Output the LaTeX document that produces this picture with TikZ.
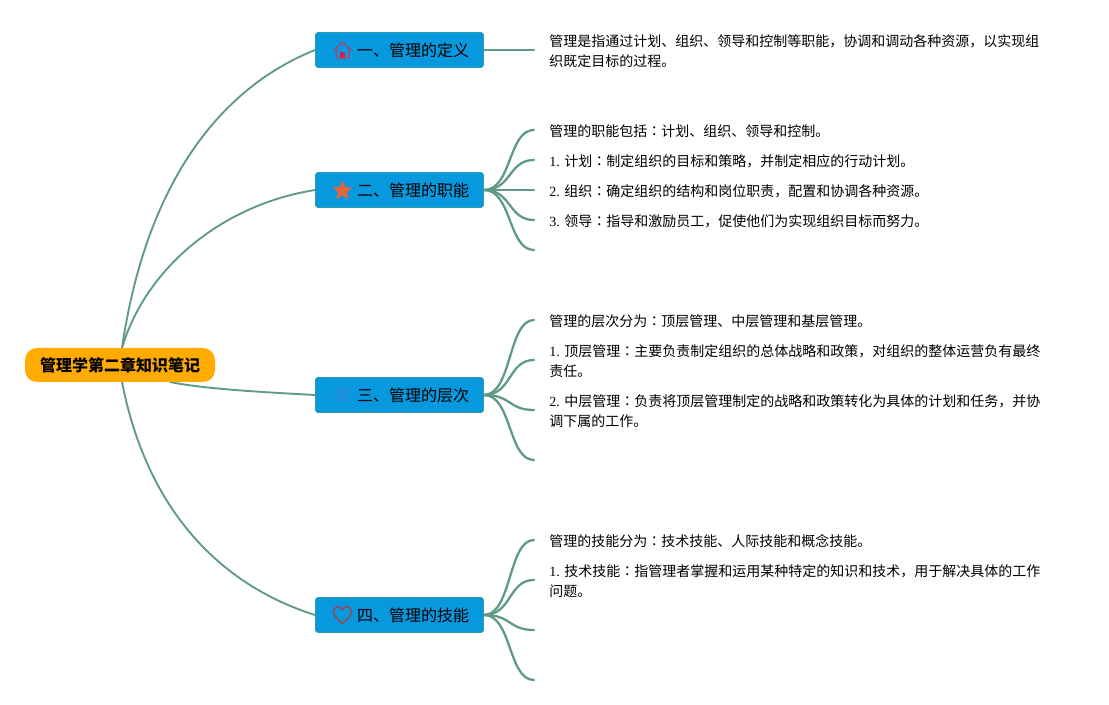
\documentclass[tikz,border=0pt]{standalone}
\usepackage{fontspec}
\usetikzlibrary{backgrounds}
\setmainfont{Liberation Serif}
\newfontfamily\cjk{Noto Sans CJK SC}
\newfontfamily\cjktc{Noto Sans CJK TC}
\definecolor{linkc}{HTML}{5E9A85}
\definecolor{topicc}{HTML}{0798DD}
\definecolor{topicb}{HTML}{2F9AA8}
\definecolor{rootc}{HTML}{FFAB00}
\definecolor{housec}{HTML}{B0446E}
\definecolor{housed}{HTML}{D81E4A}
\definecolor{starc}{HTML}{E0673A}
\definecolor{squarec}{HTML}{1890DA}
\definecolor{heartc}{HTML}{8A4F5E}
\tikzset{
  x=0.75pt,y=-0.75pt,
  link/.style={draw=linkc,line width=1.4pt,line cap=round},
  fan/.style={draw=linkc,line width=1.7pt,line cap=round},
  topic/.style={draw=topicb,fill=topicc,line width=0.6pt,rounded corners=2pt,minimum width=126pt,minimum height=26.25pt,inner sep=0pt,text=black,font=\cjk\fontsize{12}{14}\selectfont},
  roottopic/.style={fill=rootc,rounded corners=9pt,minimum width=142.5pt,minimum height=25.5pt,inner sep=0pt,text=black,font=\cjk\bfseries\fontsize{12}{14}\selectfont},
  note/.style={anchor=north west,inner sep=0pt,yshift=-2.6pt,align=left,font=\cjk\fontsize{10.5}{15}\selectfont},
}
\newcommand{\nm}[1]{{\rmfamily #1}}
\newcommand{\cn}{{\cjktc ：}}
\newcommand{\tp}[1]{\hspace*{20.25pt}\raisebox{-0.6pt}{#1}}
\begin{document}
\begin{tikzpicture}
\useasboundingbox (0,0) rectangle (1109,705);
\coordinate (a1) at (534,50);
\foreach \n/\y in {b1/130,b2/160,b3/190,b4/220,b5/250,c1/320,c2/360,c3/410,c4/460,d1/540,d2/580,d3/630,d4/680}{\coordinate (\n) at (534,\y);}
\coordinate (r1) at (122,348);
\coordinate (r2) at (122,382);
\coordinate (r3) at (170,382);
\node[topic] (t1) at (399.5,50) {\tp{一、管理的定义}};
\node[topic] (t2) at (399.5,190) {\tp{二、管理的职能}};
\node[topic] (t3) at (399.5,395) {\tp{三、管理的层次}};
\node[topic] (t4) at (399.5,615) {\tp{四、管理的技能}};
\node[roottopic] (root) at (120,365) {\raisebox{-0.6pt}{管理学第二章知识笔记}};
\begin{scope}[on background layer]
\draw[link] (r1) .. controls (145,190) and (215,90) .. (t1.west);
\draw[link] (r1) .. controls (145,270) and (220,205) .. (t2.west);
\draw[link] (r3) .. controls (205,389) and (260,392) .. (t3.west);
\draw[link] (r2) .. controls (147,510) and (220,585) .. (t4.west);
\draw[fan] (t1.east) -- (a1);
\foreach \n/\y in {b1/130,b2/160,b3/190,b4/220,b5/250}{\draw[fan] (t2.east) .. controls (512,190) and (508,\y) .. (\n);}
\foreach \n/\y in {c1/320,c2/360,c3/410,c4/460}{\draw[fan] (t3.east) .. controls (512,395) and (508,\y) .. (\n);}
\foreach \n/\y in {d1/540,d2/580,d3/630,d4/680}{\draw[fan] (t4.east) .. controls (512,615) and (508,\y) .. (\n);}
\end{scope}
% icons
\draw[housec,line width=0.9pt,line join=round] (334,50) -- (342.7,42) -- (351.5,50) (336.5,48) -- (336.5,58) -- (349,58) -- (349,48);
\fill[housed] (340,52) rectangle (345,58);
\fill[starc] (342.5,180.5) -- (345.3,187) -- (352.3,187.6) -- (347,192.2) -- (348.6,199.2) -- (342.5,195.5) -- (336.4,199.2) -- (338,192.2) -- (332.7,187.6) -- (339.7,187) -- cycle;
\fill[squarec] (335,387) rectangle (350,402);
\draw[heartc,line width=1.2pt,line join=round] (342.5,623.5) .. controls (336,618) and (333.5,615) .. (333.5,611.5) .. controls (333.5,606) and (340.5,605) .. (342.5,610) .. controls (344.5,605) and (351.5,606) .. (351.5,611.5) .. controls (351.5,615) and (349,618) .. (342.5,623.5) -- cycle;
% notes
\node[note] (n1) at (549,31) {管理是指通过计划、组织、领导和控制等职能，协调和调动各种资源，以实现组\\织既定目标的过程。};
\node[note] (n2) at (549,121) {管理的职能包括\cn 计划、组织、领导和控制。};
\node[note] (n3) at (549,151) {\nm{1. }计划\cn 制定组织的目标和策略，并制定相应的行动计划。};
\node[note] (n4) at (549,181) {\nm{2. }组织\cn 确定组织的结构和岗位职责，配置和协调各种资源。};
\node[note] (n5) at (549,211) {\nm{3. }领导\cn 指导和激励员工，促使他们为实现组织目标而努力。};
\node[note] (n6) at (549,311) {管理的层次分为\cn 顶层管理、中层管理和基层管理。};
\node[note] (n7) at (549,341) {\nm{1. }顶层管理\cn 主要负责制定组织的总体战略和政策，对组织的整体运营负有最终\\责任。};
\node[note] (n8) at (549,391) {\nm{2. }中层管理\cn 负责将顶层管理制定的战略和政策转化为具体的计划和任务，并协\\调下属的工作。};
\node[note] (n9) at (549,531) {管理的技能分为\cn 技术技能、人际技能和概念技能。};
\node[note] (n10) at (549,561) {\nm{1. }技术技能\cn 指管理者掌握和运用某种特定的知识和技术，用于解决具体的工作\\问题。};
\end{tikzpicture}
\end{document}
